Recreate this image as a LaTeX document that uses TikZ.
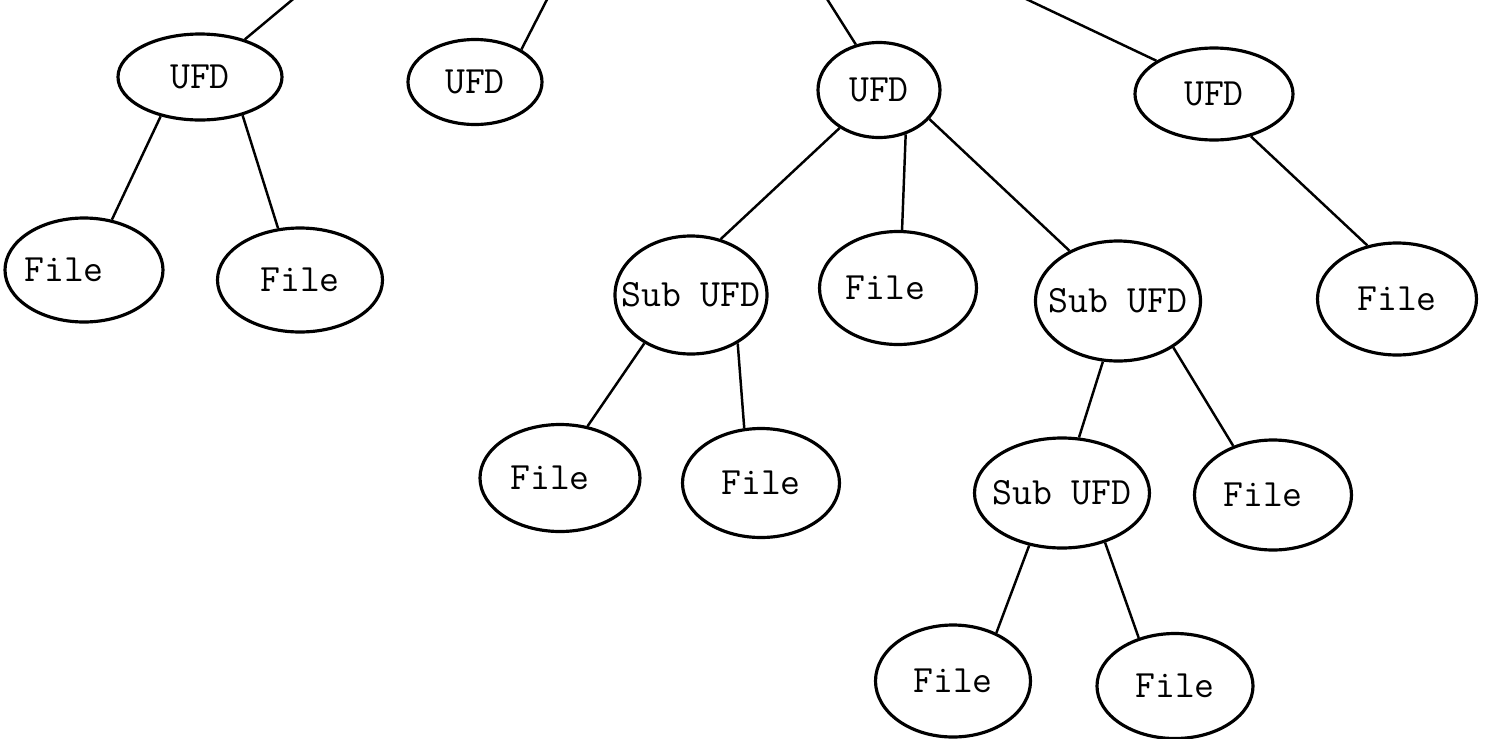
\documentclass[tikz,border=0pt]{standalone}
\usepackage{fontspec}
\usetikzlibrary{shapes.geometric}
% keep the label from widening the ellipse
\newcommand{\lbl}[2][0pt]{\makebox[0pt]{\hspace*{#1}#2\hspace*{-#1}}}

\begin{document}
\begin{tikzpicture}[x=0.02cm, y=-0.02cm, line width=1.4pt,
    dir/.style={draw, ellipse, line width=1.8pt, inner sep=0pt,
        font=\ttfamily\fontsize{22}{24}\selectfont},
    sz/.style 2 args={minimum width=#1*0.02cm, minimum height=#2*0.02cm}]
    \useasboundingbox (0,0) rectangle (1485,738);
    \clip (0,0) rectangle (1485,738);

    % user file directories
    \node[dir, sz={164}{86}] (ufd1) at (200,77) {\lbl{UFD}};
    \node[dir, sz={134}{85}] (ufd2) at (475,82) {\lbl{UFD}};
    \node[dir, sz={122}{95}] (ufd3) at (879,90) {\lbl{UFD}};
    \node[dir, sz={158}{92}] (ufd4) at (1214,94) {\lbl{UFD}};

    % second level
    \node[dir, sz={158}{104}] (file1) at (84,270) {\lbl[-0.4cm]{File}};
    \node[dir, sz={165}{104}] (file2) at (300,280) {\lbl{File}};
    \node[dir, sz={152}{118}] (sub1) at (691,295) {\lbl{Sub UFD}};
    \node[dir, sz={157}{113}] (file3) at (898,288) {\lbl[-0.25cm]{File}};
    \node[dir, sz={165}{120}] (sub2) at (1118,301) {\lbl{Sub UFD}};
    \node[dir, sz={159}{112}] (file4) at (1397,299) {\lbl{File}};

    % third level
    \node[dir, sz={160}{107}] (file5) at (560,478) {\lbl[-0.2cm]{File}};
    \node[dir, sz={157}{109}] (file6) at (761,483) {\lbl{File}};
    \node[dir, sz={175}{110}] (sub3) at (1062,493) {\lbl{Sub UFD}};
    \node[dir, sz={157}{110}] (file7) at (1273,495) {\lbl[-0.2cm]{File}};

    % fourth level
    \node[dir, sz={155}{112}] (file8) at (953,681) {\lbl{File}};
    \node[dir, sz={156}{105}] (file9) at (1175,686) {\lbl{File}};

    % links up to the master directory
    \coordinate (up1) at (316,-20);
    \coordinate (up2) at (557,-20);
    \coordinate (up3) at (815,-20);
    \coordinate (up4) at (986,-20);
    \draw (ufd1.40) -- (up1);
    \draw (ufd2.35) -- (up2);
    \draw (ufd3.117) -- (up3);
    \draw (ufd4.150) -- (up4);

    \draw (ufd1.225) -- (file1.61);
    \draw (ufd1.318) -- (file2.113);
    \draw (ufd3.224) -- (sub1.62);
    \draw (ufd3.301) -- (file3.86);
    \draw (ufd3.330) -- (sub2.134);
    \draw (ufd4.311) -- (file4.119);

    \draw (sub1.226) -- (file5.62);
    \draw (sub1.314) -- (file6.107);
    \draw (sub2.256) -- (sub3.73);
    \draw (sub2.320) -- (file7.129);
    \draw (sub3.238) -- (file8.48);
    \draw (sub3.311) -- (file9.127);
\end{tikzpicture}
\end{document}
